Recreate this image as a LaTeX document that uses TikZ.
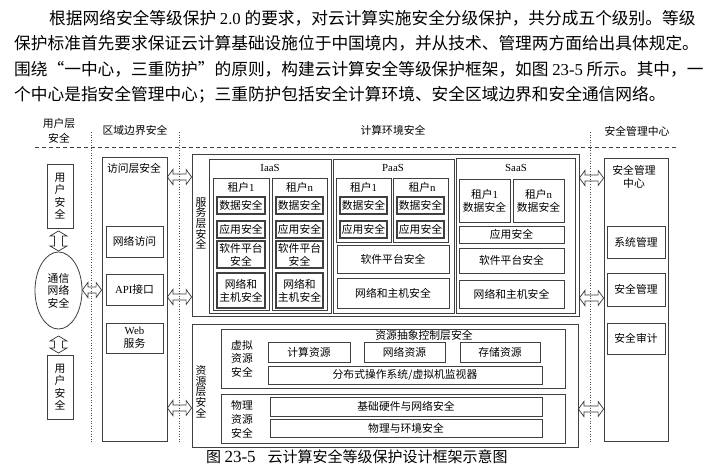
\documentclass[tikz,border=0pt]{standalone}
\usepackage{fontspec}
\setmainfont{Liberation Serif}
\newfontfamily\cjk{Noto Sans CJK SC}
\usetikzlibrary{calc,shapes.geometric}
\newcommand\dfont{\cjk\fontsize{10.8}{13}\selectfont}
\newcommand\pfont{\cjk\fontsize{16.7}{20}\selectfont}
\tikzset{
  bx/.style={draw=black!75, line width=0.8pt, inner sep=0pt, align=center, font=\dfont},
  tb/.style={bx, line width=1.2pt},
  lbl/.style={inner sep=0pt, align=center, font=\dfont},
  blk/.style={draw=black!80, line width=0.7pt, line join=miter},
  dots/.style={draw=black!70, line width=0.6pt, dotted},
  para/.style={inner sep=0pt, anchor=west, font=\pfont},
}
% optional style, name, x1, y1, x2, y2, text
\newcommand\mybox[7][bx]{\node[#1, minimum width={(#5-#3)*1pt}, minimum height={(#6-#4)*1pt}] (#2) at ({(#3+#5)/2},{(#4+#6)/2}) {#7};}
\newcommand\dblh[2]{\draw[blk] (#1) -- ($(#1)+(5.5,-7.5)$) -- ($(#1)+(5.5,-3)$) -- ($(#2)+(-5.5,-3)$) -- ($(#2)+(-5.5,-7.5)$) -- (#2) -- ($(#2)+(-5.5,7.5)$) -- ($(#2)+(-5.5,3)$) -- ($(#1)+(5.5,3)$) -- ($(#1)+(5.5,7.5)$) -- cycle;}
\newcommand\dblv[2]{\draw[blk] (#1) -- ($(#1)+(8.5,5)$) -- ($(#1)+(4,5)$) -- ($(#2)+(4,-5)$) -- ($(#2)+(8.5,-5)$) -- (#2) -- ($(#2)+(-8.5,-5)$) -- ($(#2)+(-4,-5)$) -- ($(#1)+(-4,5)$) -- ($(#1)+(-8.5,5)$) -- cycle;}
\begin{document}
\begin{tikzpicture}[x=1pt,y=-1pt]
\fill[white] (0,0) rectangle (714,475);
\useasboundingbox (0,0) rectangle (714,475);

% paragraph
\node[para] (l1) at (49,18) {根据网络安全等级保护 {\rmfamily 2.0} 的要求，对云计算实施安全分级保护，共分成五个级别。等级};
\node[para] (l2) at (14,43.5) {保护标准首先要求保证云计算基础设施位于中国境内，并从技术、管理两方面给出具体规定。};
\node[para] (l3) at (14,69) {围绕“一中心，三重防护”的原则，构建云计算安全等级保护框架，如图 {\rmfamily 23-5} 所示。其中，一};
\node[para] (l4) at (14,94.5) {个中心是指安全管理中心；三重防护包括安全计算环境、安全区域边界和安全通信网络。};

% header
\node[lbl, font=\cjk\fontsize{10.8}{15}\selectfont] (hUser) at (59,130.5) {用户层\\安全};
\node[lbl] (hBorder) at (135,130) {区域边界安全};
\node[lbl] (hComp) at (393,130) {计算环境安全};
\node[lbl] (hMgmt) at (637,131) {安全管理中心};
\coordinate (dl) at (35,147);
\coordinate (dr) at (678,147);
\draw[black!75, line width=0.7pt, dash pattern=on 4pt off 3pt] (dl) -- (dr);

% dotted verticals
\coordinate (v1t) at (91,132); \coordinate (v1b) at (91,443);
\coordinate (v2t) at (179,132); \coordinate (v2b) at (179,443);
\coordinate (v3t) at (590,132); \coordinate (v3b) at (590,443);
\draw[dots] (v1t) -- (v1b);
\draw[dots] (v2t) -- (v2b);
\draw[dots] (v3t) -- (v3b);

% user layer
\mybox[bx, font=\cjk\fontsize{10.8}{12.5}\selectfont]{user1}{47}{164}{73}{228}{用\\户\\安\\全}
\node[draw=black!75, line width=0.8pt, ellipse, minimum width=47pt, minimum height=77pt, inner sep=0pt, align=center, font=\cjk\fontsize{10.8}{12.5}\selectfont] (net) at (58.5,290.5) {通信\\网络\\安全};
\mybox[bx, font=\cjk\fontsize{10.8}{12.5}\selectfont]{user2}{47}{355}{73}{419}{用\\户\\安\\全}
\dblv{net.north |- 0,231}{net.north |- 0,251}
\dblv{net.south |- 0,336}{net.south |- 0,353}

% access layer
\mybox{fang}{102}{157}{167}{441}{}
\node[lbl] (fangl) at (134,168) {访问层安全};
\mybox{wlfw}{106}{226}{163}{257}{网络访问}
\mybox{api}{106}{274}{163}{305}{{\rmfamily API}接口}
\mybox{web}{106}{323}{163}{353}{{\rmfamily Web}\\服务}
\dblh{net.east |- 0,290}{fang.west |- 0,290}

% service layer
\mybox{fw}{192}{154}{579}{316}{}
\node[lbl, font=\cjk\fontsize{10.8}{10.7}\selectfont] (fwl) at (201,223.5) {服\\务\\层\\安\\全};
% IaaS
\mybox{iaas}{209}{159}{331}{313}{}
\node[lbl] (iaasl) at (270,168) {\rmfamily IaaS};
\mybox{it1}{213}{178}{269}{310}{}
\node[lbl] (it1l) at (241,187) {租户{\rmfamily 1}};
\mybox[tb]{it1d}{217}{197}{265}{214}{数据安全}
\mybox[tb]{it1a}{217}{221}{265}{238}{应用安全}
\mybox[tb]{it1s}{217}{241}{265}{268}{软件平台\\安全}
\mybox[tb]{it1n}{217}{273}{265}{308}{网络和\\主机安全}
\mybox{itn}{272}{178}{327}{310}{}
\node[lbl] (itnl) at (299.5,187) {租户{\rmfamily n}};
\mybox[tb]{itnd}{276}{197}{323}{214}{数据安全}
\mybox[tb]{itna}{276}{221}{323}{238}{应用安全}
\mybox[tb]{itns}{276}{241}{323}{268}{软件平台\\安全}
\mybox[tb]{itnn}{276}{273}{323}{308}{网络和\\主机安全}
% PaaS
\mybox{paas}{333}{159}{454}{313}{}
\node[lbl] (paasl) at (393,168) {\rmfamily PaaS};
\mybox{pt1}{336}{178}{391}{242}{}
\node[lbl] (pt1l) at (363.5,187) {租户{\rmfamily 1}};
\mybox[tb]{pt1d}{340}{197}{387}{214}{数据安全}
\mybox[tb]{pt1a}{340}{221}{387}{238}{应用安全}
\mybox{ptn}{393}{178}{448}{242}{}
\node[lbl] (ptnl) at (422,187) {租户{\rmfamily n}};
\mybox[tb]{ptnd}{397}{197}{444}{214}{数据安全}
\mybox[tb]{ptna}{397}{221}{444}{238}{应用安全}
\mybox{pts}{337}{245}{449}{273}{软件平台安全}
\mybox{ptw}{337}{278}{449}{308}{网络和主机安全}
% SaaS
\mybox{saas}{456}{158}{575}{313}{}
\node[lbl] (saasl) at (516,168) {\rmfamily SaaS};
\mybox{st1}{459}{179}{510}{222}{租户{\rmfamily 1}\\数据安全}
\mybox{stn}{513}{179}{564}{222}{租户{\rmfamily n}\\数据安全}
\mybox{sta}{459}{226}{564}{243}{应用安全}
\mybox{sts}{459}{248}{564}{273}{软件平台安全}
\mybox{stw}{459}{280}{564}{308}{网络和主机安全}

% resource layer
\mybox{zy}{192}{324}{578}{447}{}
\node[lbl, font=\cjk\fontsize{10.8}{10.7}\selectfont] (zyl) at (201,391.5) {资\\源\\层\\安\\全};
\mybox{xn}{221}{329}{565}{388}{}
\node[lbl, font=\cjk\fontsize{10.8}{13.5}\selectfont] (xnl) at (242,358.5) {虚拟\\资源\\安全};
\node[lbl] (xnh) at (424,335.5) {资源抽象控制层安全};
\mybox{js}{268}{342}{350}{362}{计算资源}
\mybox{wz}{364}{342}{445}{362}{网络资源}
\mybox{cc}{460}{342}{540}{362}{存储资源}
\mybox{fb}{268}{366}{542}{384}{分布式操作系统/虚拟机监视器}
\mybox{wl}{221}{394}{565}{443}{}
\node[lbl, font=\cjk\fontsize{10.8}{14}\selectfont] (wll) at (242,419) {物理\\资源\\安全};
\mybox{jc}{270}{397}{542}{416}{基础硬件与网络安全}
\mybox{hj}{270}{419}{542}{437}{物理与环境安全}

% management centre
\mybox{gl}{604}{158}{668}{441}{}
\node[lbl, font=\cjk\fontsize{10.8}{13}\selectfont] (gll) at (634,176.5) {安全管理\\中心};
\mybox{xt}{607}{226}{665}{258}{系统管理}
\mybox{aq}{607}{273}{665}{306}{安全管理}
\mybox{sj}{607}{323}{665}{354}{安全审计}

% block arrows
\dblh{fang.east |- 0,177}{fw.west |- 0,177}
\dblh{fang.east |- 0,297}{fw.west |- 0,297}
\dblh{fang.east |- 0,408}{zy.west |- 0,408}
\dblh{fw.east |- 0,178}{gl.west |- 0,178}
\dblh{fw.east |- 0,298}{gl.west |- 0,298}
\dblh{zy.east |- 0,409}{gl.west |- 0,409}

% caption
\node[inner sep=0pt, anchor=west, font=\cjk\fontsize{15}{18}\selectfont] (cap) at (206,456.5) {图 {\rmfamily\fontsize{17}{18}\selectfont 23-5}\hspace{12pt}云计算安全等级保护设计框架示意图};
\end{tikzpicture}
\end{document}
